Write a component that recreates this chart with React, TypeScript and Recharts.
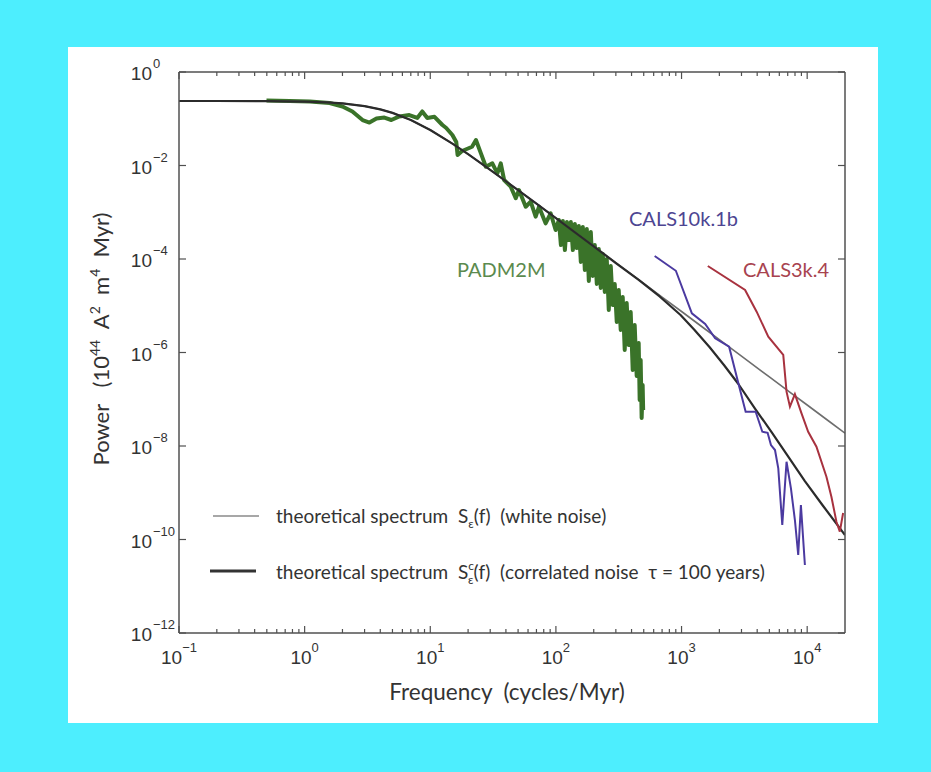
import React from 'react';
import { LineChart, Line, XAxis, YAxis } from 'recharts';

// ---------- data ----------
const whiteFreq = [0.1, 0.2, 0.5, 1, 1.5, 2, 3, 4, 5, 7, 10, 15, 20, 30, 50, 70, 100, 200, 300, 500, 700, 1000, 1500, 2000, 3000, 5000, 7000, 10000, 15000, 20000];
const whiteNoisePower = [0.2399, 0.2397, 0.2381, 0.2326, 0.2239, 0.2128, 0.1865, 0.1589, 0.1336, 0.0937, 0.0573, 0.02936, 0.01745, 0.00808, 0.002973, 0.001526, 7.5e-4, 1.88e-4, 8.36e-5, 3.01e-5, 1.536e-5, 7.53e-6, 3.345e-6, 1.882e-6, 8.36e-7, 3.01e-7, 1.536e-7, 7.53e-8, 3.345e-8, 1.882e-8];
const corrFreq = [0.1, 0.2, 0.5, 1, 1.5, 2, 3, 4, 5, 7, 10, 15, 20, 30, 50, 70, 100, 200, 300, 456, 669, 982, 1269, 1668, 2175, 2834, 3867, 5208, 7068, 9587, 13397, 20000];
const corrNoisePower = [0.2399, 0.2397, 0.2381, 0.2326, 0.2239, 0.2128, 0.1865, 0.1589, 0.1336, 0.0937, 0.0573, 0.02936, 0.01745, 0.00808, 0.00297, 0.001523, 7.47e-4, 1.86e-4, 8.2e-5, 3.56e-5, 1.58e-5, 6.34e-6, 3.03e-6, 1.31e-6, 5.4e-7, 2.12e-7, 6.18e-8, 1.99e-8, 5.96e-9, 1.78e-9, 5.21e-10, 1.25e-10];

const padmFreq = [0.497, 0.76, 1.1, 1.58, 2.0, 2.4, 2.89, 3.28, 3.73, 4.31, 4.9, 5.67, 6.81, 7.88, 8.64, 9.47, 10.8, 12.5, 13.4, 15.0, 16.1, 16.5, 17.9, 20.4, 21.5, 23.1, 25.3, 27.7, 31.2, 34.2, 36.4, 38.7, 43.7, 47.9, 50.8, 57.5, 63.0, 69.0, 73.3, 82.8, 90.8, 99.5,
  105.6, 109.6, 113.6, 117.9, 122.3, 126.9, 131.5, 136.4, 141.5, 146.8, 152.2, 157.9, 163.8, 169.9, 176.2, 182.8, 189.6, 196.7, 204.0, 211.6, 219.5, 227.6, 236.1, 244.9, 254.0, 263.5, 273.3, 283.5, 294.0, 305.0, 316.2, 328.0, 340.2, 352.9, 366.0, 379.7, 393.8, 408.5, 423.7, 439.5, 455.9, 464.2, 472.8, 481.4, 490.3, 494.9];
const padmPower = [0.245, 0.24, 0.234, 0.217, 0.183, 0.143, 0.094, 0.0831, 0.101, 0.106, 0.094, 0.112, 0.12, 0.104, 0.143, 0.104, 0.11, 0.0735, 0.0634, 0.0449, 0.0318, 0.0168, 0.0204, 0.0237, 0.0252, 0.0351, 0.0182, 0.00942, 0.0111, 0.00681, 0.0111, 0.0049, 0.00352, 0.00199, 0.00299, 0.00131, 0.00168, 8.03e-4, 0.00131, 5.8e-4, 9.5e-4, 4.17e-4,
  6.83e-4, 1.99e-4, 6.5e-4, 1.558e-4, 6.18e-4, 2.55e-4, 6.18e-4, 1.558e-4, 5.61e-4, 1.718e-4, 5.08e-4, 8.63e-5, 4.84e-4, 5.82e-5, 4.38e-4, 3.38e-5, 3.78e-4, 4.33e-5, 1.99e-4, 2.92e-5, 1.636e-4, 2.4e-5, 1.279e-4, 1.968e-5, 1.0e-4, 8.11e-6, 7.09e-5, 1.04e-5, 2.92e-5, 4.49e-6, 2.17e-5, 3.03e-6, 1.54e-5, 1.13e-6, 1.145e-5, 1.446e-6, 7.35e-6, 4.22e-7, 3.88e-6, 3.14e-7, 1.596e-6, 9.64e-8, 6.91e-7, 3.97e-8, 2.02e-7, 5.89e-8];

const cals10Freq = [611, 901, 1208, 1542, 1851, 2391, 2833, 3238, 3888, 4395, 4842, 5150, 5544, 5888, 6335, 6850, 7425, 7985, 8486, 8913, 9590];
const cals10Power = [1.16e-4, 5.6e-5, 6.9e-6, 4.07e-6, 2.01e-6, 1.33e-6, 2.19e-7, 5.4e-8, 5.4e-8, 2.02e-8, 1.92e-8, 1.05e-8, 8.2e-9, 3.33e-9, 2.04e-10, 4.6e-9, 1.24e-9, 2.61e-10, 4.66e-11, 5.47e-10, 2.85e-11];

const cals3Freq = [1618, 3204, 3960, 4902, 6450, 6850, 7290, 7985, 9015, 10185, 11850, 14230, 15590, 17090, 18190, 19320];
const cals3Power = [7.08e-5, 2.17e-5, 7.46e-6, 2.18e-6, 8.85e-7, 1.45e-7, 6.93e-8, 1.29e-7, 5.0e-8, 2.02e-8, 9.66e-9, 2.2e-9, 8.24e-10, 2.4e-10, 1.47e-10, 3.69e-10];

const xMajorTicks = [0.1, 1, 10, 100, 1000, 10000];
const xTickExponents = ['\u22121', '0', '1', '2', '3', '4'];
const yTicks = [1e-12, 1e-10, 1e-8, 1e-6, 1e-4, 1e-2, 1];
const yTickExponents = ['\u221212', '\u221210', '\u22128', '\u22126', '\u22124', '\u22122', '0'];
const xDomain = [0.1, 20000];
const yDomain = [1e-12, 1];

// minor ticks (2..9 within each decade)
const xTicks: number[] = [];
xMajorTicks.forEach((d) => {
  for (let m = 1; m <= 9; m++) {
    const v = m * d;
    if (v < xDomain[1]) xTicks.push(v);
  }
});

const toPts = (fs: number[], ps: number[]) => fs.map((f, i) => ({ f, p: ps[i] }));
const whiteData = toPts(whiteFreq, whiteNoisePower);
const corrData = toPts(corrFreq, corrNoisePower);
const padmData = toPts(padmFreq, padmPower);
const cals10Data = toPts(cals10Freq, cals10Power);
const cals3Data = toPts(cals3Freq, cals3Power);

// ---------- styling ----------
const AXIS = '#505050';
const TXT = '#333333';
const TICK_FONT = '"Liberation Sans", Arial, sans-serif';
const LABEL_FONT = 'Lato, "Open Sans", sans-serif';

const majorIndex = (v: number) => xMajorTicks.findIndex((m) => Math.abs(Math.log10(m) - Math.log10(v)) < 1e-6);

const BottomTick = (props: any) => {
  const { x, y, payload } = props;
  const idx = majorIndex(payload.value);
  const len = idx >= 0 ? 7 : 4;
  return (
    <g>
      <line x1={x} y1={y} x2={x} y2={y - len} stroke={AXIS} strokeWidth={1.2} />
      {idx >= 0 && (
        <text x={x} y={y + 31} textAnchor="middle" fontFamily={TICK_FONT} fontSize={19} fill={TXT}>
          10<tspan dy={-12} fontSize={13}>{xTickExponents[idx]}</tspan>
        </text>
      )}
    </g>
  );
};

const TopTick = (props: any) => {
  const { x, y, payload } = props;
  const len = majorIndex(payload.value) >= 0 ? 7 : 4;
  return <line x1={x} y1={y} x2={x} y2={y + len} stroke={AXIS} strokeWidth={1.2} />;
};

const LeftTick = (props: any) => {
  const { x, y, payload } = props;
  const idx = yTicks.findIndex((t) => Math.abs(Math.log10(t) - Math.log10(payload.value)) < 1e-6);
  return (
    <g>
      <line x1={x} y1={y} x2={x + 7} y2={y} stroke={AXIS} strokeWidth={1.2} />
      <text x={x - 27} y={y + 8} textAnchor="end" fontFamily={TICK_FONT} fontSize={19} fill={TXT}>10</text>
      <text x={x - 26} y={y - 4} textAnchor="start" fontFamily={TICK_FONT} fontSize={13} fill={TXT}>
        {idx >= 0 ? yTickExponents[idx] : ''}
      </text>
    </g>
  );
};

const RightTick = (props: any) => {
  const { x, y } = props;
  return <line x1={x} y1={y} x2={x - 7} y2={y} stroke={AXIS} strokeWidth={1.2} />;
};

export default function App() {
  return (
    <div style={{ position: 'absolute', left: 0, top: 0, width: 931, height: 772, background: '#4deefe', overflow: 'hidden' }}>
      <div style={{ position: 'absolute', left: 68, top: 47, width: 810, height: 676, background: '#ffffff' }} />
      <div style={{ position: 'absolute', left: 0, top: 0 }}>
        <LineChart width={931} height={772} margin={{ top: 71, right: 85, bottom: 99, left: 119 }}>
          <XAxis
            xAxisId={0}
            type="number"
            dataKey="f"
            scale="log"
            domain={xDomain}
            allowDataOverflow
            ticks={xTicks}
            interval={0}
            height={40}
            tickSize={0}
            tickMargin={0}
            tickLine={false}
            axisLine={{ stroke: AXIS, strokeWidth: 1.5 }}
            tick={(p: any) => <BottomTick {...p} />}
          />
          <XAxis
            xAxisId="top"
            orientation="top"
            type="number"
            dataKey="f"
            scale="log"
            domain={xDomain}
            allowDataOverflow
            ticks={xTicks}
            interval={0}
            height={1}
            tickSize={0}
            tickMargin={0}
            tickLine={false}
            axisLine={{ stroke: AXIS, strokeWidth: 1.5 }}
            tick={(p: any) => <TopTick {...p} />}
          />
          <YAxis
            yAxisId={0}
            type="number"
            dataKey="p"
            scale="log"
            domain={yDomain}
            allowDataOverflow
            ticks={yTicks}
            interval={0}
            width={60}
            tickSize={0}
            tickMargin={0}
            tickLine={false}
            axisLine={{ stroke: AXIS, strokeWidth: 1.5 }}
            tick={(p: any) => <LeftTick {...p} />}
          />
          <YAxis
            yAxisId="right"
            orientation="right"
            type="number"
            dataKey="p"
            scale="log"
            domain={yDomain}
            allowDataOverflow
            ticks={yTicks}
            interval={0}
            width={1}
            tickSize={0}
            tickMargin={0}
            tickLine={false}
            axisLine={{ stroke: AXIS, strokeWidth: 1.5 }}
            tick={(p: any) => <RightTick {...p} />}
          />
          <Line data={padmData} dataKey="p" type="linear" stroke="#3a7329" strokeWidth={4} dot={false} isAnimationActive={false} strokeLinejoin="round" />
          <Line data={whiteData} dataKey="p" type="linear" stroke="#6e6e6e" strokeWidth={1.6} dot={false} isAnimationActive={false} />
          <Line data={corrData} dataKey="p" type="linear" stroke="#2b2b2b" strokeWidth={2.2} dot={false} isAnimationActive={false} strokeLinejoin="round" />
          <Line data={cals10Data} dataKey="p" type="linear" stroke="#4b3aa0" strokeWidth={2} dot={false} isAnimationActive={false} />
          <Line data={cals3Data} dataKey="p" type="linear" stroke="#a8323f" strokeWidth={2} dot={false} isAnimationActive={false} />
        </LineChart>
      </div>
      <svg width={931} height={772} style={{ position: 'absolute', left: 0, top: 0, pointerEvents: 'none' }}>
        {/* axis titles */}
        <text x={507} y={700} textAnchor="middle" fontFamily={LABEL_FONT} fontSize={22.5} fill={TXT} style={{ whiteSpace: 'pre' }}>
          Frequency  (cycles/Myr)
        </text>
        <text x={109} y={339} transform="rotate(-90 109 339)" textAnchor="middle" fontFamily={LABEL_FONT} fontSize={22} fill={TXT} style={{ whiteSpace: 'pre' }}>
          {'Power   (10'}
          <tspan dy={-9} fontSize={14}>44</tspan>
          <tspan dy={9}>{'  A'}</tspan>
          <tspan dy={-9} fontSize={14}>2</tspan>
          <tspan dy={9}>{'  m'}</tspan>
          <tspan dy={-9} fontSize={14}>4</tspan>
          <tspan dy={9}>{'  Myr)'}</tspan>
        </text>
        {/* series labels */}
        <text x={457} y={277} fontFamily={LABEL_FONT} fontSize={20} fill="#5b8a4e">PADM2M</text>
        <text x={629} y={226} fontFamily={LABEL_FONT} fontSize={20} fill="#4d4592">CALS10k.1b</text>
        <text x={743} y={277} fontFamily={LABEL_FONT} fontSize={20} fill="#a8434f">CALS3k.4</text>
        {/* legend */}
        <line x1={213} y1={516} x2={259} y2={516} stroke="#8a8a8a" strokeWidth={1.5} />
        <text x={276} y={523} fontFamily={LABEL_FONT} fontSize={19} fill={TXT} style={{ whiteSpace: 'pre' }}>
          {'theoretical spectrum  S'}
          <tspan dy={5} fontSize={12}>{'\u03b5'}</tspan>
          <tspan dy={-5}>{'(f)  (white noise)'}</tspan>
        </text>
        <line x1={210} y1={571} x2={256} y2={571} stroke="#333333" strokeWidth={3} />
        <text x={276} y={579} fontFamily={LABEL_FONT} fontSize={19} fill={TXT} style={{ whiteSpace: 'pre' }}>
          {'theoretical spectrum  S'}
          <tspan dy={-9} fontSize={12}>c</tspan>
          <tspan dx={-6} dy={14} fontSize={12}>{'\u03b5'}</tspan>
          <tspan dy={-5}>{'(f)  (correlated noise  \u03c4 = 100 years)'}</tspan>
        </text>
      </svg>
    </div>
  );
}
